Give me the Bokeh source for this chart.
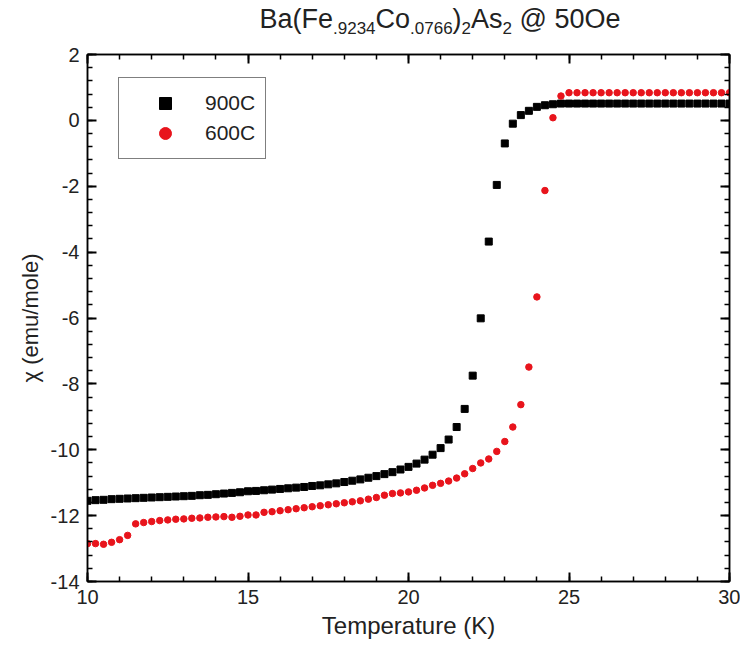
from bokeh.plotting import figure
from bokeh.models import Range1d, LinearAxis, Legend, LegendItem, Div, FixedTicker
from bokeh.layouts import column
from bokeh.embed import file_html
from bokeh.resources import INLINE

temps = [10 + 0.25 * i for i in range(81)]
chi_900 = [-11.55, -11.53, -11.52, -11.50, -11.49, -11.48, -11.47, -11.46, -11.45, -11.44,
           -11.43, -11.42, -11.41, -11.40, -11.38, -11.37, -11.35, -11.33, -11.31, -11.29,
           -11.26, -11.25, -11.23, -11.21, -11.19, -11.17, -11.15, -11.13, -11.10, -11.08,
           -11.05, -11.02, -10.98, -10.94, -10.90, -10.85, -10.80, -10.74, -10.68, -10.60,
           -10.52, -10.42, -10.30, -10.15, -9.95, -9.69, -9.31, -8.76, -7.75, -6.01,
           -3.68, -1.96, -0.70, -0.10, 0.16, 0.29, 0.41, 0.46, 0.49] + [0.51] * 22
chi_600 = [-12.85, -12.85, -12.87, -12.81, -12.73, -12.60, -12.25, -12.21, -12.18, -12.15,
           -12.13, -12.11, -12.10, -12.08, -12.07, -12.05, -12.04, -12.03, -12.05, -12.02,
           -11.98, -11.98, -11.90, -11.88, -11.85, -11.82, -11.79, -11.76, -11.73, -11.70,
           -11.67, -11.64, -11.61, -11.58, -11.55, -11.50, -11.45, -11.38, -11.33, -11.31,
           -11.28, -11.23, -11.16, -11.08, -11.02, -10.95, -10.86, -10.73, -10.57, -10.40,
           -10.28, -10.05, -9.75, -9.31, -8.63, -7.49, -5.36, -2.13, 0.08, 0.74] + [0.84] * 21
x_ticks = [10, 15, 20, 25, 30]
y_ticks = [-14, -12, -10, -8, -6, -4, -2, 0, 2]
x_minor = list(range(10, 31))
y_minor = [round(-14 + 0.4 * i, 1) for i in range(41)]

FONT = "Liberation Sans"
INK = "black"
title = Div(text='<div style="font-family:\'Liberation Sans\';font-size:27px;color:#222;'
                 'width:740px;text-align:center;padding-left:140px;box-sizing:border-box;white-space:nowrap">'
                 'Ba(Fe<sub style="font-size:17px">.9234</sub>Co<sub style="font-size:17px">.0766</sub>)'
                 '<sub style="font-size:17px">2</sub>As<sub style="font-size:17px">2</sub> @ 50Oe</div>',
            width=740, height=40, margin=0)

p = figure(width=740, height=620, output_backend="svg", toolbar_location=None,
           x_range=Range1d(10, 30), y_range=Range1d(-14, 2),
           min_border_left=87, min_border_right=11, min_border_top=14, min_border_bottom=79)
p.margin = 0
p.grid.visible = False
p.outline_line_color = INK
p.outline_line_width = 1.5

def style(ax, majors, minors, labels=True):
    ax.ticker = FixedTicker(ticks=majors, minor_ticks=minors)
    ax.major_tick_in = 9; ax.major_tick_out = 0
    ax.minor_tick_in = 5; ax.minor_tick_out = 0
    ax.major_tick_line_color = INK; ax.minor_tick_line_color = INK
    ax.major_tick_line_width = 2; ax.minor_tick_line_width = 1.5
    ax.axis_line_color = INK; ax.axis_line_width = 1.5
    ax.major_label_text_font = FONT
    ax.major_label_text_font_size = "20px"
    ax.major_label_text_color = "#222222"
    ax.major_label_standoff = 8
    if not labels:
        ax.major_label_text_alpha = 0

ax_x, ax_y = p.xaxis[0], p.yaxis[0]
style(ax_x, x_ticks, x_minor)
style(ax_y, y_ticks, y_minor)
ax_y.major_label_overrides = {t: str(t) for t in y_ticks}
for ax in (ax_x, ax_y):
    ax.axis_label_text_font = FONT
    ax.axis_label_text_font_style = "normal"
    ax.axis_label_text_color = "#222222"
ax_x.axis_label = "Temperature (K)"
ax_y.axis_label = "χ (emu/mole)"
ax_x.axis_label_text_font_size = "24px"
ax_y.axis_label_text_font_size = "22px"

ax_top = LinearAxis(); ax_right = LinearAxis()
style(ax_top, x_ticks, x_minor, labels=False)
style(ax_right, y_ticks, y_minor, labels=False)
p.add_layout(ax_top, "above")
p.add_layout(ax_right, "right")
p.min_border_top = 14
p.min_border_right = 11

r1 = p.scatter(temps, chi_900, marker="square", size=7, color="black")
r2 = p.scatter(temps, chi_600, marker="circle", size=6.5, color="#e8141c")

leg = Legend(items=[LegendItem(label="900C", renderers=[r1]), LegendItem(label="600C", renderers=[r2])],
             location=(31, 422), padding=10, margin=0, spacing=0,
             glyph_width=72, glyph_height=30, label_height=30, label_standoff=4,
             label_text_font=FONT, label_text_font_size="21px", label_text_color="#222222",
             border_line_color=INK, border_line_width=1.2, background_fill_alpha=1)
p.add_layout(leg, "center")

layout = column(title, p, margin=0)
open("out.html", "w").write(file_html(layout, INLINE))
